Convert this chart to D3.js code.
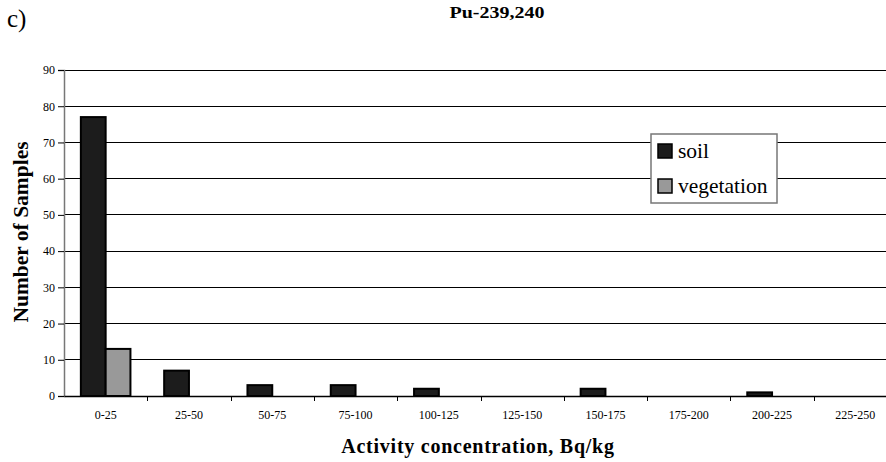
<!DOCTYPE html>
<html>
<head>
<meta charset="utf-8">
<script src="https://cdn.jsdelivr.net/npm/d3@7"></script>
<style>
  html, body { margin: 0; padding: 0; background: #fff; }
  svg { display: block; }
  svg text { font-family: "Liberation Serif", "Times New Roman", serif; }
</style>
</head>
<body>
<svg id="chart" width="886" height="462"></svg>
<script>
// Histogram of Pu-239,240 activity concentrations
const categories = ["0-25", "25-50", "50-75", "75-100", "100-125", "125-150", "150-175", "175-200", "200-225", "225-250"];
const seriesNames = ["soil", "vegetation"];
const soilCounts = [77, 7, 3, 3, 2, 0, 2, 0, 1, 0];
const vegetationCounts = [13, 0, 0, 0, 0, 0, 0, 0, 0, 0];
const yTicks = [0, 10, 20, 30, 40, 50, 60, 70, 80, 90];
const seriesFill = { soil: "#1c1c1c", vegetation: "#999999" };

const svg = d3.select("#chart");
const plotLeft = 64, plotRight = 897, plotTop = 70, plotBottom = 396;

const x = d3.scaleBand().domain(categories).range([plotLeft, plotRight]);
const xInner = d3.scaleBand().domain(seriesNames)
  .range([0, x.bandwidth()]).paddingOuter(0.68).paddingInner(0);
const y = d3.scaleLinear().domain([0, 90]).range([plotBottom, plotTop]);

// horizontal gridlines
svg.append("g").selectAll("line").data(yTicks.filter(d => d > 0)).join("line")
  .attr("x1", plotLeft).attr("x2", plotRight)
  .attr("y1", d => y(d)).attr("y2", d => y(d))
  .attr("stroke", "#000").attr("stroke-width", 1)
  .attr("shape-rendering", "crispEdges");

// y axis
const yAxis = svg.append("g").attr("transform", `translate(${plotLeft},0)`)
  .call(d3.axisLeft(y).tickValues(yTicks).tickSize(6).tickPadding(3));
yAxis.select(".domain").attr("stroke", "#777").attr("stroke-width", 1.5);
yAxis.selectAll(".tick line").attr("stroke", "#000");
yAxis.selectAll("text").attr("font-size", 12).attr("font-family", null);

// bars
const rows = categories.map((c, i) => ({ c, soil: soilCounts[i], vegetation: vegetationCounts[i] }));
const groups = svg.append("g").selectAll("g").data(rows).join("g")
  .attr("transform", d => `translate(${x(d.c)},0)`);
groups.selectAll("rect")
  .data(d => seriesNames.map(s => ({ s, v: d[s] })).filter(e => e.v > 0))
  .join("rect")
  .attr("x", e => xInner(e.s))
  .attr("width", xInner.bandwidth())
  .attr("y", e => y(e.v))
  .attr("height", e => y(0) - y(e.v))
  .attr("fill", e => seriesFill[e.s])
  .attr("stroke", "#000").attr("stroke-width", 2);

// x axis
const xAxis = svg.append("g").attr("transform", `translate(0,${plotBottom})`)
  .call(d3.axisBottom(x).tickSize(0).tickPadding(14));
xAxis.select(".domain").attr("stroke", "#000").attr("stroke-width", 1.5);
xAxis.selectAll("text").attr("font-size", 12).attr("font-family", null);
// tick marks sit on the category boundaries
svg.append("g").selectAll("line").data(categories.slice(1)).join("line")
  .attr("x1", d => Math.round(x(d)) + 0.5).attr("x2", d => Math.round(x(d)) + 0.5)
  .attr("y1", plotBottom).attr("y2", plotBottom + 5)
  .attr("stroke", "#000");

// titles
svg.append("text").attr("x", 7).attr("y", 27).attr("font-size", 25).text("c)");
svg.append("text").attr("x", 497).attr("y", 20).attr("text-anchor", "middle")
  .attr("font-size", 20).attr("font-weight", "bold").attr("transform", "translate(497,0) scale(1,0.88) translate(-497,0)")
  .text("Pu-239,240");
svg.append("text").attr("transform", "translate(28,232) rotate(-90)")
  .attr("text-anchor", "middle").attr("font-size", 21.5).attr("font-weight", "bold")
  .text("Number of Samples");
svg.append("text").attr("x", 478).attr("y", 453).attr("text-anchor", "middle")
  .attr("font-size", 20).attr("font-weight", "bold").attr("letter-spacing", 0.75)
  .text("Activity concentration, Bq/kg");

// legend
const lg = svg.append("g").attr("transform", "translate(651,134)");
lg.append("rect").attr("width", 126).attr("height", 69)
  .attr("fill", "#fff").attr("stroke", "#777").attr("stroke-width", 1.5);
const items = lg.selectAll("g").data(seriesNames).join("g")
  .attr("transform", (d, i) => `translate(7,${10 + i * 35})`);
items.append("rect").attr("width", 14).attr("height", 14)
  .attr("fill", d => seriesFill[d]).attr("stroke", "#000").attr("stroke-width", 1.5);
items.append("text").attr("x", 20).attr("y", 13.5).attr("font-size", 21.5).text(d => d);
</script>
</body>
</html>
